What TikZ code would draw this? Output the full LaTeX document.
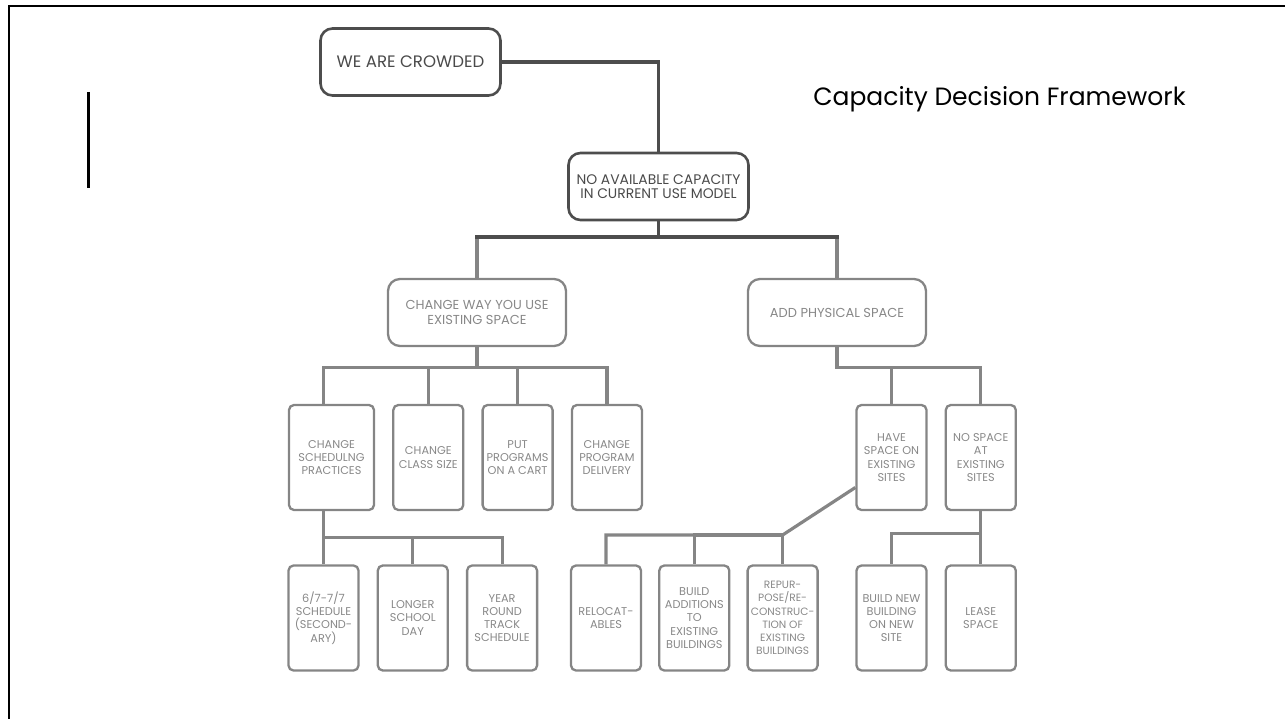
\documentclass[tikz,border=0pt]{standalone}
\usepackage{fontspec}
\usepackage{tikz}
\usetikzlibrary{positioning}
\newfontfamily\boxfont{Poppins}
\newfontfamily\titlefont{Poppins}
\definecolor{linedark}{HTML}{4D4D4D}
\definecolor{linegray}{HTML}{858585}
\definecolor{textdark}{HTML}{4A4A4A}
\definecolor{textgray}{HTML}{888888}

\begin{document}
\begin{tikzpicture}[x=1pt,y=-1pt,node distance=17pt,
  box/.style={draw=linegray,line width=2.3pt,align=center,inner sep=0pt,text=textgray},
  top node/.style={box,draw=linedark,line width=2.6pt,text=textdark,rounded corners=12pt,
    minimum width=180pt,minimum height=67pt,font=\boxfont\fontsize{13.9}{14.5}\selectfont},
  mid node/.style={box,rounded corners=12pt,minimum width=178pt,minimum height=67pt,
    font=\boxfont\fontsize{13}{14.8}\selectfont},
  leaf node/.style={box,rounded corners=5pt,minimum width=70pt,minimum height=105pt,
    font=\boxfont\fontsize{11.3}{13.2}\selectfont},
  link/.style={draw=linegray,line width=3.2pt},
  dark link/.style={draw=linedark,line width=3.2pt}]

  \useasboundingbox (0,0) rectangle (1285,719);
  % frame and side bar
  \draw[line width=2.4pt] (9.2,719) -- (9.2,6) -- (1285,6);
  \draw[line width=3pt] (88,92) -- (88,188);
  \node[font=\titlefont\fontsize{25}{28}\selectfont,anchor=base] (title) at (999.5,106) {Capacity Decision Framework};

  % top levels
  \node[top node,font=\boxfont\fontsize{16.6}{18}\selectfont] (crowded) at (410.5,62) {WE ARE CROWDED};
  \node[top node] (nocap) at (658.5,186.5) {NO AVAILABLE CAPACITY\\IN CURRENT USE MODEL};
  \node[mid node] (change) at (477,312.5) {CHANGE WAY YOU USE\\EXISTING SPACE};
  \node[mid node] (add) at (837,312.5) {ADD PHYSICAL SPACE};

  % third row
  \node[leaf node,minimum width=85pt] (sched) at (331.5,457.5) {CHANGE\\SCHEDULNG\\PRACTICES};
  \node[leaf node] (class) [right=of sched] {CHANGE\\CLASS SIZE};
  \node[leaf node] (cart) [right=of class] {PUT\\PROGRAMS\\ON A CART};
  \node[leaf node] (delivery) [right=of cart] {CHANGE\\PROGRAM\\DELIVERY};
  \node[leaf node] (have) at (891.5,457.5) {HAVE\\SPACE ON\\EXISTING\\SITES};
  \node[leaf node] (nospace) [right=of have] {NO SPACE\\AT\\EXISTING\\SITES};

  % bottom row
  \node[leaf node] (second) at (323.5,618) {6/7-7/7\\SCHEDULE\\(SECOND-\\ARY)};
  \node[leaf node] (longer) [right=of second] {LONGER\\SCHOOL\\DAY};
  \node[leaf node] (yearround) [right=of longer] {YEAR\\ROUND\\TRACK\\SCHEDULE};
  \node[leaf node] (reloc) at (606,618) {RELOCAT-\\ABLES};
  \node[leaf node] (addition) [right=16pt of reloc] {BUILD\\ADDITIONS\\TO\\EXISTING\\BUILDINGS};
  \node[leaf node,font=\boxfont\fontsize{10.6}{13.2}\selectfont] (repurpose) [right=16pt of addition] {REPUR-\\POSE/RE-\\CONSTRUC-\\TION OF\\EXISTING\\BUILDINGS};
  \node[leaf node] (buildnew) at (891.5,618) {BUILD NEW\\BUILDING\\ON NEW\\SITE};
  \node[leaf node] (lease) [right=of buildnew] {LEASE\\SPACE};

  % connectors
  \coordinate (hub) at (658.5,237);
  \coordinate (knee) at (repurpose.north |- 0,535);
  \draw[dark link] (crowded.east) -| (nocap.north);
  \draw[dark link] (nocap.south) -- (hub);
  \draw[link] (change.north |- hub) -- (change.north);
  \draw[link] (add.north |- hub) -- (add.north);
  \draw[dark link,line cap=rect] (change.north |- hub) -- (add.north |- hub);

  \foreach \kid in {class,cart,delivery}
    \draw[link] (change.south) -- ++(0,20) -| (\kid.north);
  \draw[link] (change.south) -- ++(0,20) -| ([xshift=-8pt]sched.north);
  \foreach \kid in {have,nospace}
    \draw[link] (add.south) -- ++(0,20) -| (\kid.north);
  \foreach \kid in {second,longer,yearround}
    \draw[link] ([xshift=-8pt]sched.south) -- ++(0,26) -| (\kid.north);
  \draw[link] ([yshift=-30pt]have.west) -- (knee) -| (reloc.north);
  \draw[link] (knee) -| (addition.north);
  \draw[link] (knee) -- (repurpose.north);
  \foreach \kid in {buildnew,lease}
    \draw[link] (nospace.south) -- ++(0,22) -| (\kid.north);
\end{tikzpicture}
\end{document}
